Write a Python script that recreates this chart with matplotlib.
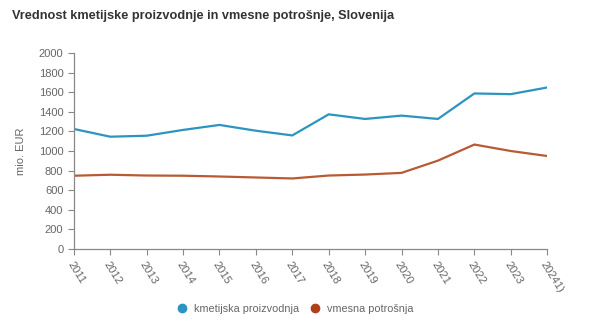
import numpy as np
import matplotlib.pyplot as plt

plt.rcParams['font.family'] = ['Liberation Sans', 'DejaVu Sans']

years = ['2011', '2012', '2013', '2014', '2015', '2016', '2017',
         '2018', '2019', '2020', '2021', '2022', '2023', '20241)']
proizvodnja = [1225, 1146, 1156, 1215, 1266, 1207, 1159,
               1374, 1327, 1361, 1327, 1587, 1580, 1648]
potrosnja = [748, 758, 750, 748, 740, 730, 720,
             750, 760, 777, 902, 1066, 1000, 949]

blue = '#2b95c0'
orange = '#b85a33'
grey = '#666666'

fig = plt.figure(figsize=(6, 3.29), dpi=100)
ax = fig.add_axes([0.123, 0.243, 0.789, 0.596])

x = np.arange(len(years))
ax.plot(x, proizvodnja, color=blue, lw=1.6, label='kmetijska proizvodnja')
ax.plot(x, potrosnja, color=orange, lw=1.6, label='vmesna potrošnja')

ax.set_xlim(0, len(years) - 1)
ax.set_ylim(0, 2000)
ax.set_yticks(np.arange(0, 2001, 200))
ax.set_xticks(x)
ax.set_xticklabels(years, rotation=-58, ha='left', va='top',
                   rotation_mode='anchor')

for s in ['top', 'right']:
    ax.spines[s].set_visible(False)
for s in ['left', 'bottom']:
    ax.spines[s].set_color('#888888')
    ax.spines[s].set_linewidth(0.9)
ax.tick_params(colors='#888888', labelcolor=grey, labelsize=8, length=4)
ax.tick_params(axis='x', pad=4)

ax.set_ylabel('mio. EUR', color=grey, fontsize=8, labelpad=9)

fig.text(0.02, 0.952, 'Vrednost kmetijske proizvodnje in vmesne potrošnje, Slovenija',
         fontsize=9.2, fontweight='bold', color='#333333', va='center')

handles = [plt.Line2D([], [], marker='o', ls='', color=blue, markersize=6),
           plt.Line2D([], [], marker='o', ls='', color='#b0401c', markersize=6)]
fig.legend(handles, ['kmetijska proizvodnja', 'vmesna potrošnja'],
           loc='center', bbox_to_anchor=(0.487, 0.06), ncol=2, frameon=False,
           fontsize=7.8, labelcolor=grey, handletextpad=0.15, columnspacing=0.4)

fig.savefig('out.png', dpi=100)
